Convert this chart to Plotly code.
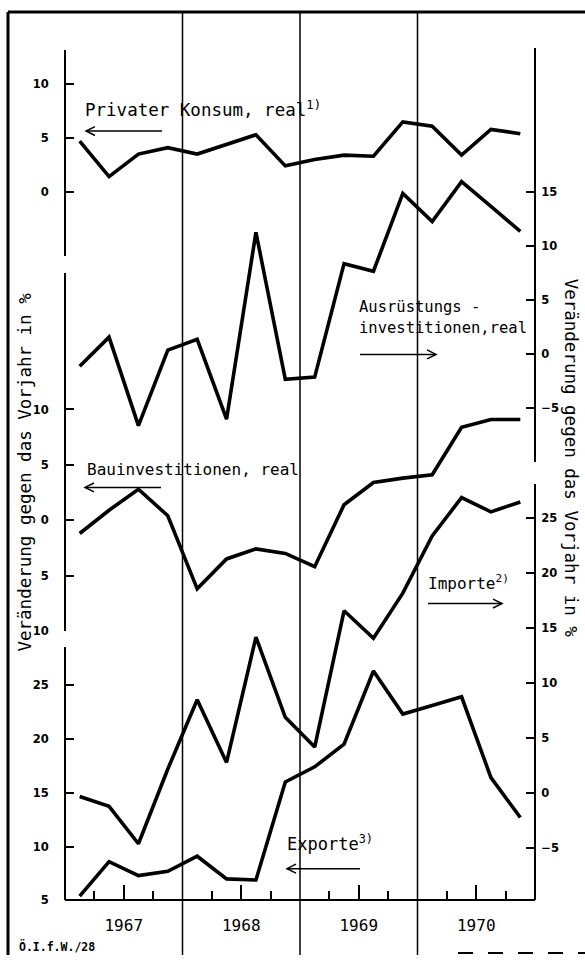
import plotly.graph_objects as go

# ---------------- data ----------------
quarter_years = [1967] * 4 + [1968] * 4 + [1969] * 4 + [1970] * 4
quarter_nums = [1, 2, 3, 4] * 4
year_labels = ["1967", "1968", "1969", "1970"]
year_bounds = [1968, 1969, 1970]

privater_konsum = [4.7, 1.4, 3.5, 4.1, 3.5, 4.4, 5.3, 2.4, 3.0, 3.4, 3.3, 6.5, 6.1, 3.4, 5.8, 5.4]
ausruestung = [-1.1, 1.6, -6.6, 0.4, 1.4, -6.0, 11.3, -2.3, -2.1, 8.4, 7.7, 14.9, 12.3, 16.0, 13.7, 11.4]
bau = [-1.2, 0.9, 2.8, 0.4, -6.2, -3.5, -2.6, -3.0, -4.2, 1.4, 3.4, 3.8, 4.1, 8.4, 9.1, 9.1]
importe = [-0.3, -1.2, -4.6, 2.2, 8.5, 2.8, 14.2, 6.9, 4.2, 16.6, 14.1, 18.2, 23.4, 26.9, 25.6, 26.5]
exporte = [5.4, 8.6, 7.3, 7.7, 9.1, 7.0, 6.9, 16.0, 17.4, 19.5, 26.3, 22.3, 23.1, 23.9, 16.4, 12.7]

konsum_ticks = [0, 5, 10]
ausr_ticks = [-10, -5, 0, 5, 10, 15]
bau_ticks = [-10, -5, 0, 5, 10]
bau_ticktext = ["10", "5", "0", "5", "10"]
imp_ticks = [-5, 0, 5, 10, 15, 20, 25]
exp_ticks = [5, 10, 15, 20, 25]

# ---------------- layout helpers ----------------
W, H = 585, 962


def px(x):
    return x / W


def py(y):
    return 1 - y / H


x_vals = [y + (q - 0.5) / 4 for y, q in zip(quarter_years, quarter_nums)]
mid_years = [int(y) + 0.5 for y in year_labels]
quarter_ticks = [int(y) + f for y in year_labels for f in (0.25, 0.75)]

BLACK = "black"
MONO = "DejaVu Sans Mono"
tickfont = dict(family="DejaVu Sans", size=11.5, color=BLACK, weight="bold")


def yaxis(top_px, bot_px, zero_px, px_per_unit, side, tickvals, ticktext=None, base=0.0):
    r_top = base + (zero_px - top_px) / px_per_unit
    r_bot = base + (zero_px - bot_px) / px_per_unit
    d = dict(
        domain=[py(bot_px), py(top_px)],
        range=[r_bot, r_top],
        anchor="free",
        position=px(65) if side == "left" else px(535),
        side=side,
        showline=True, linecolor=BLACK, linewidth=2,
        ticks="inside", ticklen=8, tickwidth=1.5, tickcolor=BLACK,
        tickvals=tickvals,
        tickfont=tickfont,
        ticklabelstandoff=13 if side == "left" else 3,
        showgrid=False, zeroline=False, fixedrange=True,
    )
    if ticktext is not None:
        d["ticktext"] = ticktext
    return d


fig = go.Figure()
line = dict(color=BLACK, width=3.6)
for vals, ax in [(privater_konsum, "y"), (ausruestung, "y2"), (bau, "y3"),
                 (importe, "y4"), (exporte, "y5")]:
    fig.add_trace(go.Scatter(x=x_vals, y=vals, mode="lines", line=line,
                             xaxis="x", yaxis=ax, hoverinfo="skip"))

annotations = [
    dict(text="Privater Konsum, real<sup>1)</sup>", x=px(83), y=py(110), font_size=17.5),
    dict(text="Ausrüstungs -", x=px(357), y=py(309), font_size=15.5),
    dict(text="investitionen,real", x=px(357), y=py(330), font_size=15.5),
    dict(text="Bauinvestitionen, real", x=px(85), y=py(473), font_size=16),
    dict(text="Importe<sup>2)</sup>", x=px(426), y=py(587), font_size=16),
    dict(text="Exporte<sup>3)</sup>", x=px(285), y=py(849), font_size=17),
]
for a in annotations:
    size = a.pop("font_size")
    a.update(xref="paper", yref="paper", xanchor="left", yanchor="middle",
             showarrow=False, font=dict(family=MONO, size=size, color=BLACK))

title_text = "Veränderung gegen das Vorjahr in %"
annotations.append(dict(text=title_text, x=px(25), y=py(476), textangle=-90,
                        xanchor="center", yanchor="middle",
                        xref="paper", yref="paper", showarrow=False,
                        font=dict(family=MONO, size=17.5, color=BLACK)))
annotations.append(dict(text=title_text, x=px(571), y=py(461), textangle=90,
                        xanchor="center", yanchor="middle",
                        xref="paper", yref="paper", showarrow=False,
                        font=dict(family=MONO, size=17.5, color=BLACK)))
annotations.append(dict(text="Ö.I.f.W./28", x=px(17), y=py(953), xanchor="left",
                        yanchor="middle", xref="paper", yref="paper", showarrow=False,
                        font=dict(family=MONO, size=11.5, color=BLACK, weight="bold")))

shapes = []
for yb in year_bounds:
    shapes.append(dict(type="line", xref="x", yref="paper", x0=yb, x1=yb,
                       y0=0, y1=py(13), line=dict(color=BLACK, width=1.5)))

# direction arrows next to the series labels: (tail x, head x, y) in px
arrows = [(162, 86, 132), (360, 436, 357), (161, 85, 491), (428, 502, 608), (360, 287, 875)]
for tx, hx, ay in arrows:
    shapes.append(dict(type="line", xref="paper", yref="paper", x0=px(tx), x1=px(hx),
                       y0=py(ay), y1=py(ay), line=dict(color=BLACK, width=1.5)))
    s = 1 if hx > tx else -1
    path = "M {} {} L {} {} L {} {}".format(px(hx - s * 9), py(ay - 4.5), px(hx), py(ay),
                                            px(hx - s * 9), py(ay + 4.5))
    shapes.append(dict(type="path", xref="paper", yref="paper", path=path,
                       line=dict(color=BLACK, width=1.5)))

# outer frame (left and top edges of the scanned sheet)
shapes.append(dict(type="line", xref="paper", yref="paper", x0=px(8), x1=px(8),
                   y0=0, y1=py(12), line=dict(color=BLACK, width=3)))
shapes.append(dict(type="line", xref="paper", yref="paper", x0=px(8), x1=1,
                   y0=py(12), y1=py(12), line=dict(color=BLACK, width=3)))
shapes.append(dict(type="line", xref="paper", yref="paper", x0=px(458), x1=1,
                   y0=py(960), y1=py(960), line=dict(color=BLACK, width=2, dash="longdash")))

fig.update_layout(
    width=W, height=H, autosize=False,
    margin=dict(l=0, r=0, t=0, b=0, pad=0),
    paper_bgcolor="white", plot_bgcolor="rgba(0,0,0,0)",
    showlegend=False,
    xaxis=dict(domain=[px(65), px(535)], range=[1967, 1971], anchor="free",
               position=py(907), showline=True, linecolor=BLACK, linewidth=2,
               ticks="inside", ticklen=14, tickwidth=1.5, tickcolor=BLACK,
               tickvals=mid_years, ticktext=year_labels,
               tickfont=dict(family=MONO, size=16, color=BLACK),
               ticklabelstandoff=10,
               minor=dict(ticks="inside", ticklen=8, tickwidth=1.5, tickcolor=BLACK,
                          tickvals=quarter_ticks, showgrid=False),
               showgrid=False, zeroline=False, fixedrange=True),
    yaxis=yaxis(50, 258, 193, 10.8, "left", konsum_ticks),
    yaxis2=yaxis(48, 465, 357, 10.88, "right", ausr_ticks),
    yaxis3=yaxis(275, 636, 524, 11.15, "left", bau_ticks, bau_ticktext),
    yaxis4=yaxis(488, 907, 799, 11.07, "right", imp_ticks),
    yaxis5=yaxis(652, 907, 907, 10.85, "left", exp_ticks, base=5.0),
    annotations=annotations,
    shapes=shapes,
)

fig.write_html("out.html", config={"displayModeBar": False},
               post_script="document.body.style.margin='0';document.body.style.padding='0';")
